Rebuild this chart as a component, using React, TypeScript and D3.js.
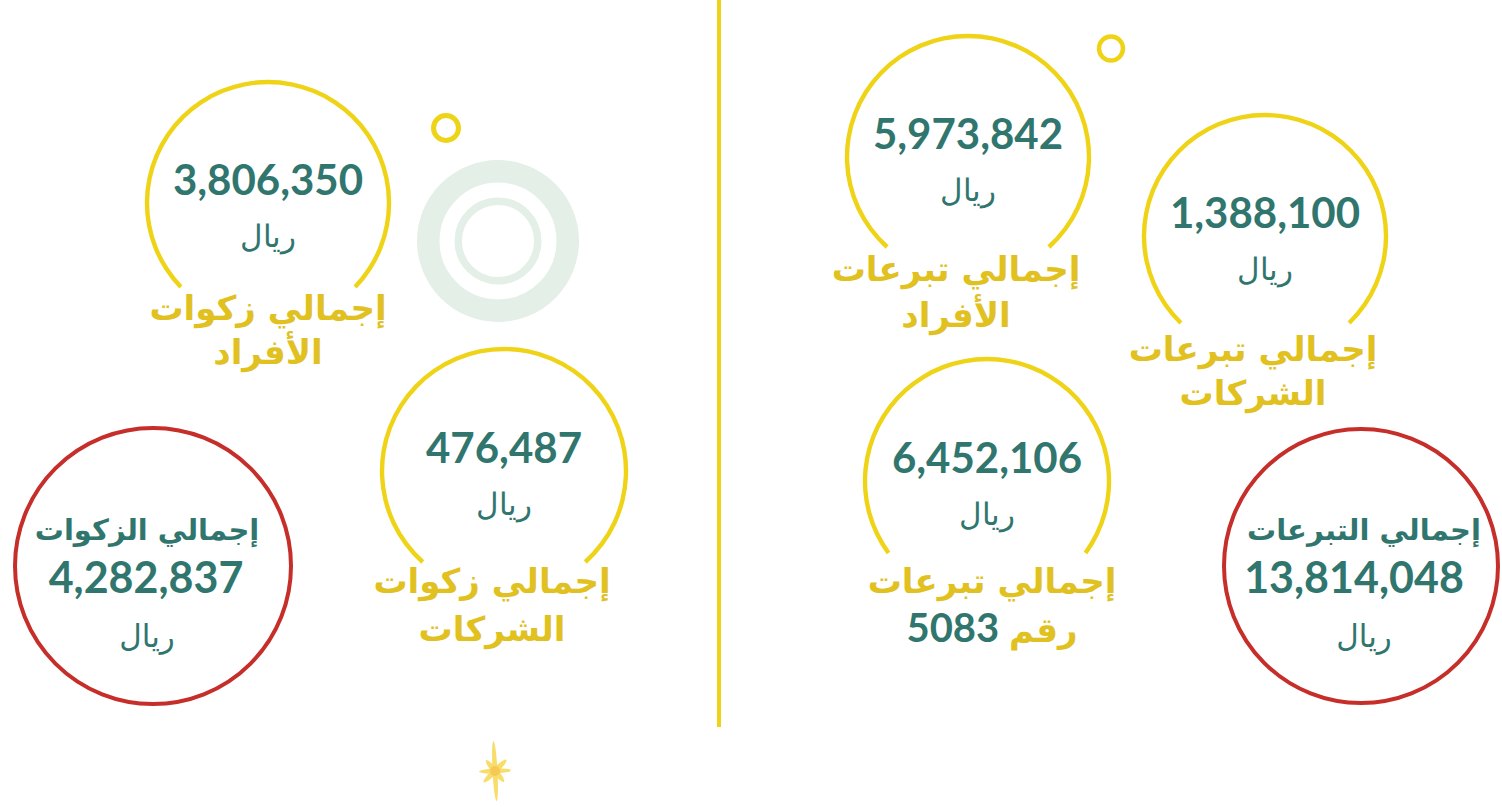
import React from "react";
import * as d3 from "d3";

// ---- data ----
const openValues = [3806350, 476487, 5973842, 1388100, 6452106];
const openLabel1 = ["إجمالي زكوات", "إجمالي زكوات", "إجمالي تبرعات", "إجمالي تبرعات", "إجمالي تبرعات"];
const openLabel2 = ["الأفراد", "الشركات", "الأفراد", "الشركات", "رقم"];
const openLabel2Num = ["", "", "", "", "5083"];
const totalTitles = ["إجمالي الزكوات", "إجمالي التبرعات"];
const totalValues = [4282837, 13814048];
const unitText = "ريال";

// ---- layout ----
const openLayout = [
  { cx: 268, cy: 203, r: 121, cut: 84, lx: 268, l1: 320, l2: 364 },
  { cx: 504, cy: 471, r: 122, cut: 91, lx: 492, l1: 593, l2: 641 },
  { cx: 968, cy: 157, r: 121, cut: 90, lx: 956, l1: 281, l2: 327 },
  { cx: 1265, cy: 236, r: 121, cut: 87, lx: 1253, l1: 361, l2: 405 },
  { cx: 987, cy: 481, r: 122, cut: 72, lx: 992, l1: 593, l2: 642 },
];
const totalLayout = [
  { cx: 153, cy: 566, r: 138 },
  { cx: 1361, cy: 566, r: 137 },
];

const YELLOW = "#efd317";
const YELLOW_TXT = "#e1c11f";
const TEAL = "#31766e";
const RED = "#c62e2a";
const MINT = "#e3efe7";
const AR = "'DejaVu Sans', sans-serif";
const NUM = "Lato, 'Open Sans', sans-serif";

const fmt = d3.format(",");

export default function App() {
  return (
    <svg width={1502} height={807} style={{ position: "absolute", left: 0, top: 0, background: "#fff" }}>
      {/* divider */}
      <line x1={719} x2={719} y1={0} y2={727} stroke={YELLOW} strokeWidth={4} />

      {/* decorative mint rings */}
      <circle cx={498} cy={241} r={69.75} fill="none" stroke={MINT} strokeWidth={22.5} />
      <circle cx={498} cy={241} r={39.75} fill="none" stroke={MINT} strokeWidth={7.5} />

      {/* small yellow rings */}
      <circle cx={446} cy={128} r={12.5} fill="none" stroke={YELLOW} strokeWidth={5} />
      <circle cx={1111} cy={48.5} r={12} fill="none" stroke={YELLOW} strokeWidth={4.5} />

      {/* sparkle */}
      <g transform="translate(495,771)" fill="#f8d23a" opacity={0.75}>
        <ellipse cx={0} cy={0} rx={2.5} ry={30} transform="rotate(-3)" />
        <ellipse cx={0} cy={0} rx={2.5} ry={16} transform="rotate(88)" />
        <ellipse cx={0} cy={0} rx={3} ry={16} transform="rotate(45)" />
        <ellipse cx={0} cy={0} rx={3} ry={14} transform="rotate(-40)" />
        <circle cx={0} cy={0} r={5} fill="#f2b81c" />
      </g>

      {openValues.map((v, i) => {
        const L = openLayout[i];
        const half = Math.acos(L.cut / L.r);
        const arcGen = d3
          .arc()
          .innerRadius(L.r - 2.2)
          .outerRadius(L.r + 2.2)
          .startAngle(-(Math.PI - half))
          .endAngle(Math.PI - half);
        return (
          <g key={i}>
            <path d={arcGen({} as any) || ""} transform={`translate(${L.cx},${L.cy})`} fill={YELLOW} />
            <text x={L.cx} y={L.cy - 8} textAnchor="middle" fontFamily={NUM} fontWeight={700} fontSize={42} fill={TEAL}>
              {fmt(v)}
            </text>
            <text x={L.cx} y={L.cy + 44} textAnchor="middle" fontFamily={AR} fontSize={31} fontWeight={300} fill={TEAL}>
              {unitText}
            </text>
            <text x={L.lx} y={L.l1} textAnchor="middle" direction="rtl" fontFamily={AR} fontWeight={700} fontSize={34} fill={YELLOW_TXT}>
              {openLabel1[i]}
            </text>
            <text x={L.lx} y={L.l2} textAnchor="middle" direction="rtl" fontFamily={AR} fontWeight={700} fontSize={34} fill={YELLOW_TXT}>
              <tspan>{openLabel2[i]}</tspan>
              {openLabel2Num[i] ? (
                <tspan fill={TEAL} fontFamily={NUM} fontSize={40}>{"  " + openLabel2Num[i]}</tspan>
              ) : null}
            </text>
          </g>
        );
      })}

      {totalValues.map((v, i) => {
        const L = totalLayout[i];
        return (
          <g key={"t" + i}>
            <circle cx={L.cx} cy={L.cy} r={L.r} fill="none" stroke={RED} strokeWidth={4} />
            <text x={L.cx - 6 + i * 9} y={L.cy - 26} textAnchor="middle" direction="rtl" fontFamily={AR} fontWeight={700} fontSize={29} fill={TEAL}>
              {totalTitles[i]}
            </text>
            <text x={L.cx - 7} y={L.cy + 27} textAnchor="middle" fontFamily={NUM} fontWeight={700} fontSize={43} fill={TEAL}>
              {fmt(v)}
            </text>
            <text x={L.cx - 6 + i * 9} y={L.cy + 81} textAnchor="middle" fontFamily={AR} fontSize={31} fill={TEAL}>
              {unitText}
            </text>
          </g>
        );
      })}
    </svg>
  );
}
